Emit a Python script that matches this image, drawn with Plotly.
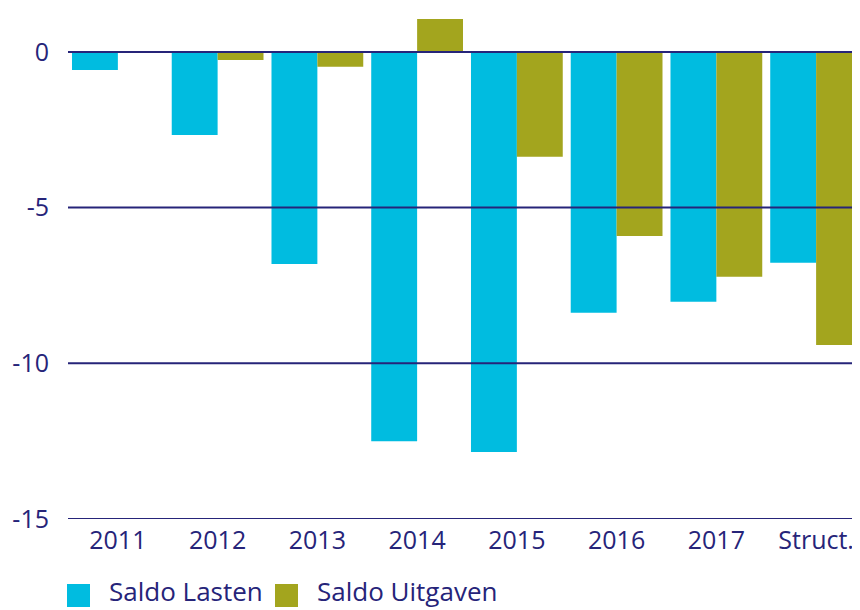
import plotly.graph_objects as go

# data
categories = ["2011", "2012", "2013", "2014", "2015", "2016", "2017", "Struct."]
saldo_lasten = [-0.58, -2.67, -6.81, -12.5, -12.85, -8.38, -8.02, -6.77]
saldo_uitgaven = [0, -0.26, -0.48, 1.06, -3.37, -5.91, -7.22, -9.41]
y_ticks = [0, -5, -10, -15]
y_ticktext = ["0", "-5", "-10", "-15"]

navy = "#262479"
cyan = "#00BCE0"
olive = "#A3A51E"
font = "Open Sans"

# the page puts the figure 8px in from the top-left corner, so the figure is
# 8px smaller than the window and everything is placed 8px up/left
W, H = 852, 602
L, B = 60, 91
PW, PH = W - L, H - B


def px(x):
    return (x - 8 - L) / PW


def py(y):
    return (PH - (y - 8)) / PH


fig = go.Figure()
fig.add_trace(go.Bar(x=categories, y=saldo_lasten, name="Saldo Lasten",
                     marker_color=cyan, marker_line_width=0))
fig.add_trace(go.Bar(x=categories, y=saldo_uitgaven, name="Saldo Uitgaven",
                     marker_color=olive, marker_line_width=0))

# gridlines sit on top of the bars in the original
for t in y_ticks:
    fig.add_hline(y=t, line_color=navy, line_width=2, layer="above")

fig.update_layout(
    width=W, height=H,
    margin=dict(l=L, r=0, t=0, b=B, autoexpand=False),
    paper_bgcolor="white", plot_bgcolor="white",
    barmode="group", bargap=0.08, bargroupgap=0,
    showlegend=False,
    font=dict(family=font, size=25, color=navy),
)
fig.update_xaxes(range=[-0.5, 7.44], showgrid=False, showline=False, ticks="",
                 automargin=False, ticklabelstandoff=4,
                 tickfont=dict(size=25, color=navy))
fig.update_yaxes(range=[-15, 1.41], tickvals=y_ticks, ticktext=y_ticktext,
                 showgrid=False, zeroline=False, automargin=False,
                 showline=False, ticks="", ticklabelstandoff=18,
                 tickfont=dict(size=25, color=navy))

# legend drawn by hand to get the large square swatches (page pixel positions)
legend = [("Saldo Lasten", cyan, 67), ("Saldo Uitgaven", olive, 275)]
for name, col, x0 in legend:
    fig.add_shape(type="rect", xref="paper", yref="paper",
                  x0=px(x0), x1=px(x0 + 23), y0=py(607), y1=py(584),
                  fillcolor=col, line_width=0)
    fig.add_annotation(text=name, xref="paper", yref="paper",
                       x=px(x0 + 41), y=py(610),
                       xanchor="left", yanchor="bottom", showarrow=False,
                       borderpad=0,
                       font=dict(family=font, size=26, color=navy))

fig.write_html("out.html")
